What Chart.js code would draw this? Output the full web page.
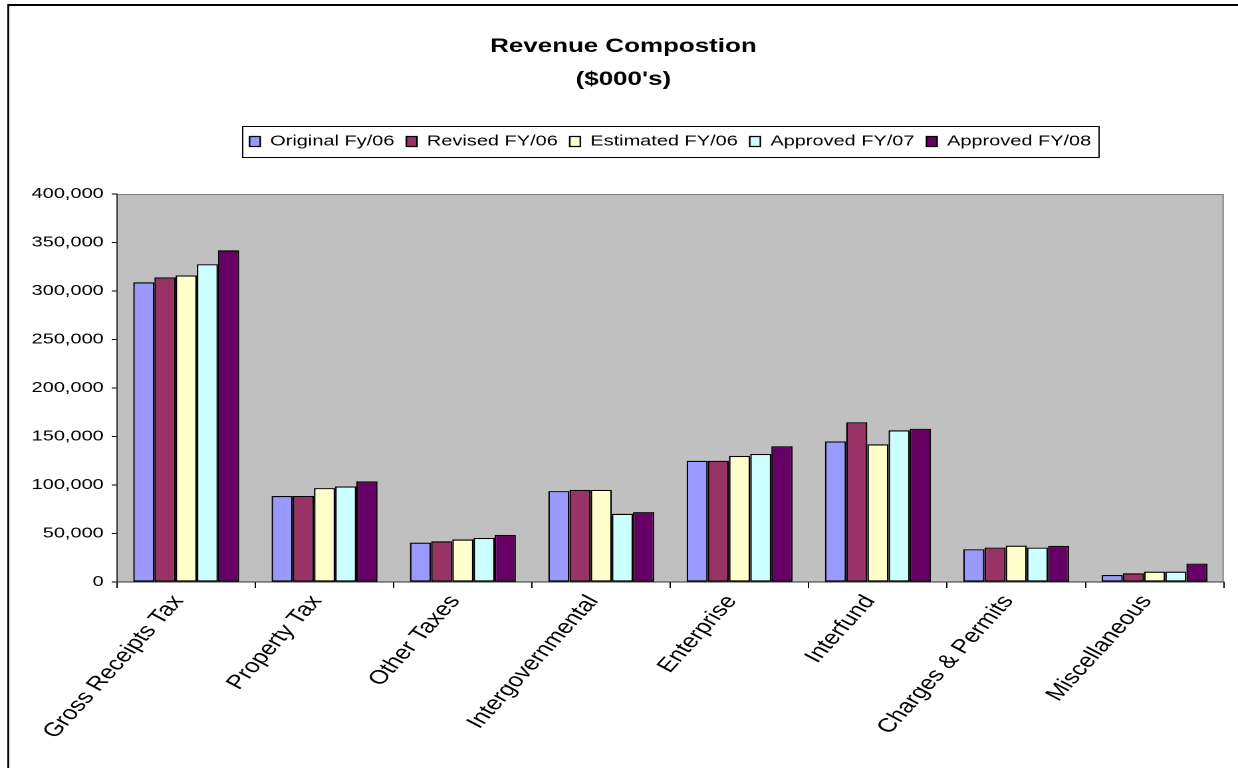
<!DOCTYPE html>
<html>
<head>
<meta charset="utf-8">
<title>Revenue Compostion</title>
<script src="https://cdn.jsdelivr.net/npm/chart.js@4/dist/chart.umd.min.js"></script>
<style>
  html, body { margin: 0; padding: 0; background: #fff; overflow: hidden; }
</style>
</head>
<body>
<!-- laid out in a 931px box and shown 1238px wide -->
<canvas id="revChart" width="931" height="768" style="display:block;width:1238px;height:768px;"></canvas>
<script>
/* ── Revenue composition data ($000's) ── */
const categories = [
  'Gross Receipts Tax', 'Property Tax', 'Other Taxes', 'Intergovernmental',
  'Enterprise', 'Interfund', 'Charges & Permits', 'Miscellaneous'
];
const seriesNames = ['Original Fy/06', 'Revised FY/06', 'Estimated FY/06', 'Approved FY/07', 'Approved FY/08'];

const originalFy06  = [309000,  88600, 40600, 93700, 125000, 145000, 33800,  7200];
const revisedFy06   = [314000,  88600, 42000, 95000, 125000, 164700, 35500,  9000];
const estimatedFy06 = [316000,  96800, 43800, 95000, 130000, 142000, 37500, 10700];
const approvedFy07  = [327600,  98500, 45500, 70300, 132000, 156400, 35500, 10700];
const approvedFy08  = [342000, 103700, 48600, 72000, 140000, 158000, 37200, 19000];

const yTicks = [0, 50000, 100000, 150000, 200000, 250000, 300000, 350000, 400000];

const PERIWINKLE = '#9999FF';
const PLUM       = '#993366';
const IVORY      = '#FFFFCC';
const ICE        = '#CCFFFF';
const GRAPE      = '#660066';

const FONT = "'Liberation Sans', Arial, sans-serif";

/* ── Plot background, page frame and legend frame ── */
const chartDecor = {
  id: 'chartDecor',
  beforeDraw(chart) {
    const { ctx, chartArea: a } = chart;
    ctx.save();
    ctx.fillStyle = '#000';
    ctx.fillRect(5.5, 4, 1.4, chart.height);
    ctx.fillRect(5.5, 4, chart.width, 2);
    ctx.fillStyle = '#C0C0C0';
    ctx.fillRect(a.left, a.top, a.width, a.height);
    ctx.strokeStyle = '#808080';
    ctx.lineWidth = 1;
    ctx.beginPath();
    ctx.moveTo(a.left, a.top + 0.5);
    ctx.lineTo(a.right - 0.5, a.top + 0.5);
    ctx.lineTo(a.right - 0.5, a.bottom);
    ctx.stroke();
    ctx.restore();
  },
  afterDraw(chart) {
    const boxes = chart.legend && chart.legend.legendHitBoxes;
    if (!boxes || !boxes.length) return;
    const first = boxes[0];
    const last = boxes[boxes.length - 1];
    const left = first.left - 6;
    const right = last.left + last.width + 5;
    const top = first.top - 7.5;
    const bottom = first.top + first.height + 8.5;
    const { ctx } = chart;
    ctx.save();
    ctx.strokeStyle = '#000';
    ctx.lineWidth = 1;
    ctx.strokeRect(Math.round(left) + 0.5, Math.round(top) + 0.5,
                   Math.round(right - left), Math.round(bottom - top));
    ctx.restore();
  }
};

const seriesData   = [originalFy06, revisedFy06, estimatedFy06, approvedFy07, approvedFy08];
const seriesColors = [PERIWINKLE, PLUM, IVORY, ICE, GRAPE];

new Chart(document.getElementById('revChart'), {
  type: 'bar',
  data: {
    labels: categories,
    datasets: seriesNames.map((name, i) => ({
      label: name,
      data: seriesData[i],
      backgroundColor: seriesColors[i],
      borderColor: '#000',
      borderWidth: 1.2,
      borderSkipped: false,
      barPercentage: 1,
      categoryPercentage: 0.766
    }))
  },
  options: {
    responsive: false,
    devicePixelRatio: 2,
    animation: false,
    layout: { padding: { top: 0, right: 10.7, bottom: 0, left: 17.3 } },
    plugins: {
      title: {
        display: true,
        text: ['Revenue Compostion', "($000's)"],
        color: '#000',
        font: { family: FONT, size: 19.5, weight: 'bold', lineHeight: 1.692 },
        padding: { top: 30, bottom: 29 }
      },
      legend: {
        display: true,
        position: 'top',
        fullSize: false,
        labels: {
          color: '#000',
          font: { family: FONT, size: 15 },
          boxWidth: 8,
          boxHeight: 10,
          padding: 9
        }
      },
      // empty spacer between the legend row and the plot
      subtitle: {
        display: true,
        text: '',
        weight: 500,
        font: { family: FONT, size: 10, lineHeight: 1 },
        padding: { top: 0, bottom: 25 }
      },
      tooltip: { enabled: false }
    },
    scales: {
      x: {
        afterFit: s => { s.height = 186; },
        grid: {
          display: true,
          offset: true,
          drawOnChartArea: false,
          drawTicks: true,
          tickLength: 6,
          color: '#000'
        },
        border: { display: true, color: '#333', width: 1 },
        ticks: {
          color: '#000',
          font: { family: FONT, size: 19.5 },
          minRotation: 55,
          maxRotation: 55,
          autoSkip: false,
          labelOffset: -6,
          padding: 3
        }
      },
      y: {
        min: 0,
        max: 400000,
        afterFit: s => { s.width = 70.7; },
        afterBuildTicks: s => { s.ticks = yTicks.map(v => ({ value: v })); },
        grid: {
          display: true,
          drawOnChartArea: false,
          drawTicks: true,
          tickLength: 4,
          color: '#000'
        },
        border: { display: true, color: '#333', width: 1 },
        ticks: {
          color: '#000',
          font: { family: FONT, size: 15 },
          padding: 6,
          callback: v => v.toLocaleString('en-US')
        }
      }
    }
  },
  plugins: [chartDecor]
});
</script>
</body>
</html>
